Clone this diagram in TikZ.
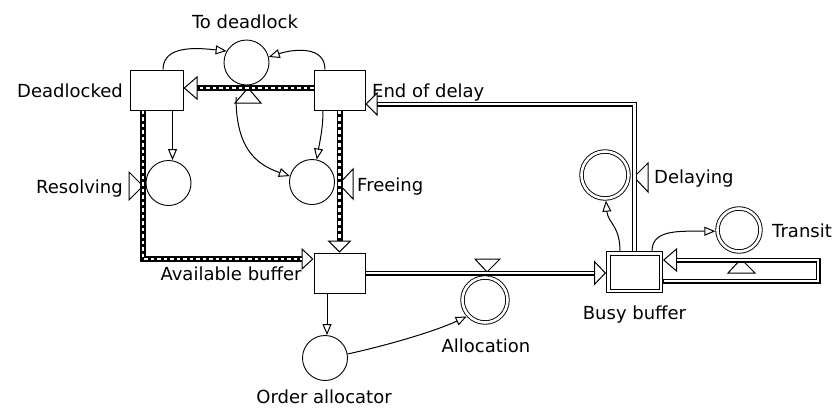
\documentclass[tikz,border=0pt]{standalone}
\usepackage{fontspec}
\setmainfont{DejaVu Sans}
\usetikzlibrary{arrows.meta}
\begin{document}
\begin{tikzpicture}[x=1pt,y=-1pt,
  font=\fontsize{18}{20}\selectfont,
  box/.style={draw, line width=1pt, inner sep=0pt, minimum width=52pt, minimum height=40pt},
  bbox/.style={draw, double, double distance=2.5pt, line width=1pt, inner sep=0pt, outer sep=2.25pt, minimum width=52.5pt, minimum height=37.5pt},
  aux/.style={draw, circle, line width=0.9pt, inner sep=0pt, minimum size=45pt},
  dbl/.style={draw, circle, double, double distance=2.6pt, line width=0.9pt, inner sep=0pt, outer sep=2.2pt},
  lbl/.style={inner sep=0pt},
  valve/.style={draw, fill=white, line width=1pt, line join=miter},
  link/.style={line width=1pt, -{Triangle[fill=white, length=11pt, width=9pt, line width'=1pt]}},
  ptip/.style 2 args={-{Triangle[fill=white, length=#1, width=#2, line width'=1pt]}},
  dashblk/.style={line width=6pt},
  dashwht/.style={white, line width=2.4pt, dash pattern=on 3.5pt off 3pt},
  dblblk/.style={line width=5pt},
  dblwht/.style={white, line width=2.2pt},
]
\fill[white] (0,0) rectangle (839,408);
\useasboundingbox (0,0) rectangle (839,408);

% stocks
\node[box, minimum width=53pt] (dl) at (156.5,90) {};
\node[box, minimum width=51pt] (eod) at (339.5,90) {};
\node[box, minimum width=51pt] (ab) at (339.5,273) {};
\node[bbox] (bb) at (634.5,272) {};

% auxiliaries
\node[aux] (td) at (246.5,62.5) {};
\node[aux] (res) at (168.5,183) {};
\node[aux] (fr) at (312,182) {};
\node[aux] (oa) at (325,358) {};
\node[dbl, minimum size=45pt] (al) at (485,300) {};
\node[dbl, minimum size=47pt] (dly) at (605,175) {};
\node[dbl, minimum size=43pt] (tr) at (739,230) {};

% labels
\node[lbl, anchor=base] (ltd) at (245,28) {To deadlock};
\node[lbl, anchor=base east] (ldl) at (123,97) {Deadlocked};
\node[lbl, anchor=base west] (leod) at (372,97) {End of delay};
\node[lbl, anchor=base east] (lres) at (123,193) {Resolving};
\node[lbl, anchor=base west] (lfr) at (357,191) {Freeing};
\node[lbl, anchor=base] (lab) at (231,280) {Available buffer};
\node[lbl, anchor=base] (loa) at (324,403) {Order allocator};
\node[lbl, anchor=base] (lal) at (486,352) {Allocation};
\node[lbl, anchor=base] (lbb) at (634.5,319) {Busy buffer};
\node[lbl, anchor=base west] (ldly) at (654,183) {Delaying};
\node[lbl, anchor=base west] (ltr) at (772,237) {Transit};

% valves
\draw[valve] (248,88) -- (235,103) -- (261,103) -- cycle;
\draw[valve] (143,186) -- (129,172) -- (129,200) -- cycle;
\draw[valve] (339,184) -- (353,169) -- (353,199) -- cycle;
\draw[valve] (487,272) -- (475,259) -- (500,259) -- cycle;
\draw[valve] (634,177) -- (648,163) -- (648,192) -- cycle;
\draw[valve] (741,259) -- (728,273) -- (755,273) -- cycle;

% dashed pipes
\draw[dashblk, ptip={14pt}{24pt}] ([yshift=2pt]eod.west) -- ([yshift=2pt]dl.east);
\draw[dashwht, shorten >=14pt] ([yshift=2pt]eod.west) -- ([yshift=2pt]dl.east);
\coordinate (dlp) at ([xshift=-13.5pt]dl.south);
\draw[dashblk, ptip={12pt}{22pt}] (dlp) |- ([yshift=14pt]ab.west);
\draw[dashwht, shorten >=12pt] (dlp) |- ([yshift=14pt]ab.west);
\draw[dashblk, ptip={12pt}{24pt}] (eod.south) -- (ab.north);
\draw[dashwht, shorten >=12pt] (eod.south) -- (ab.north);

% double pipes
\draw[dblblk, ptip={12pt}{25pt}] (ab.east) -- (ab.east -| bb.west);
\draw[dblwht, shorten >=12pt, shorten <=0.5pt] (ab.east) -- (ab.east -| bb.west);
\draw[dblblk, ptip={12pt}{24pt}] (bb.north) |- ([yshift=-14pt]eod.east);
\draw[dblwht, shorten >=12pt, shorten <=0.5pt] (bb.north) |- ([yshift=-14pt]eod.east);
\coordinate (bbl) at ([yshift=-9pt]bb.east);
\coordinate (bbu) at ([yshift=12pt]bb.east);
\draw[dblblk, ptip={14pt}{24pt}] (bbl) -- ++(155,0) |- (bbu);
\draw[dblwht, shorten >=14pt, shorten <=0.5pt] (bbl) -- ++(155,0) |- (bbu);

% information links
\draw[link] ([xshift=6.5pt]dl.north) .. controls +(0,-25) and +(-28,-3) .. (td.150);
\draw[link] ([xshift=-14.5pt]eod.north) .. controls +(0,-24) and +(25,-8) .. (td.14);
\coordinate (tdv) at (236,97);
\draw[link] (tdv) .. controls +(0,50) and +(-35,-12) .. (fr.165);
\coordinate (dlb) at ([xshift=16pt]dl.south);
\draw[link] (dlb) -- (dlb |- res.north);
\coordinate (eodb) at ([xshift=-16.5pt]eod.south);
\draw[link] (eodb) .. controls +(0,18) and +(3,-18) .. (fr.78);
\coordinate (abb) at ([xshift=-12.5pt]ab.south);
\draw[link] (abb) -- (abb |- oa.north);
\draw[link] (oa.10) .. controls +(45,-10) and +(-30,14) .. (al.222);
\coordinate (bbt1) at ([xshift=-14.5pt]bb.north);
\draw[link] (bbt1) .. controls +(0,-25) and +(2,22) .. (dly.272);
\coordinate (bbt2) at ([xshift=17.5pt]bb.north);
\draw[link] (bbt2) .. controls +(0,-22) and +(-35,0) .. (tr.183);
\end{tikzpicture}
\end{document}
